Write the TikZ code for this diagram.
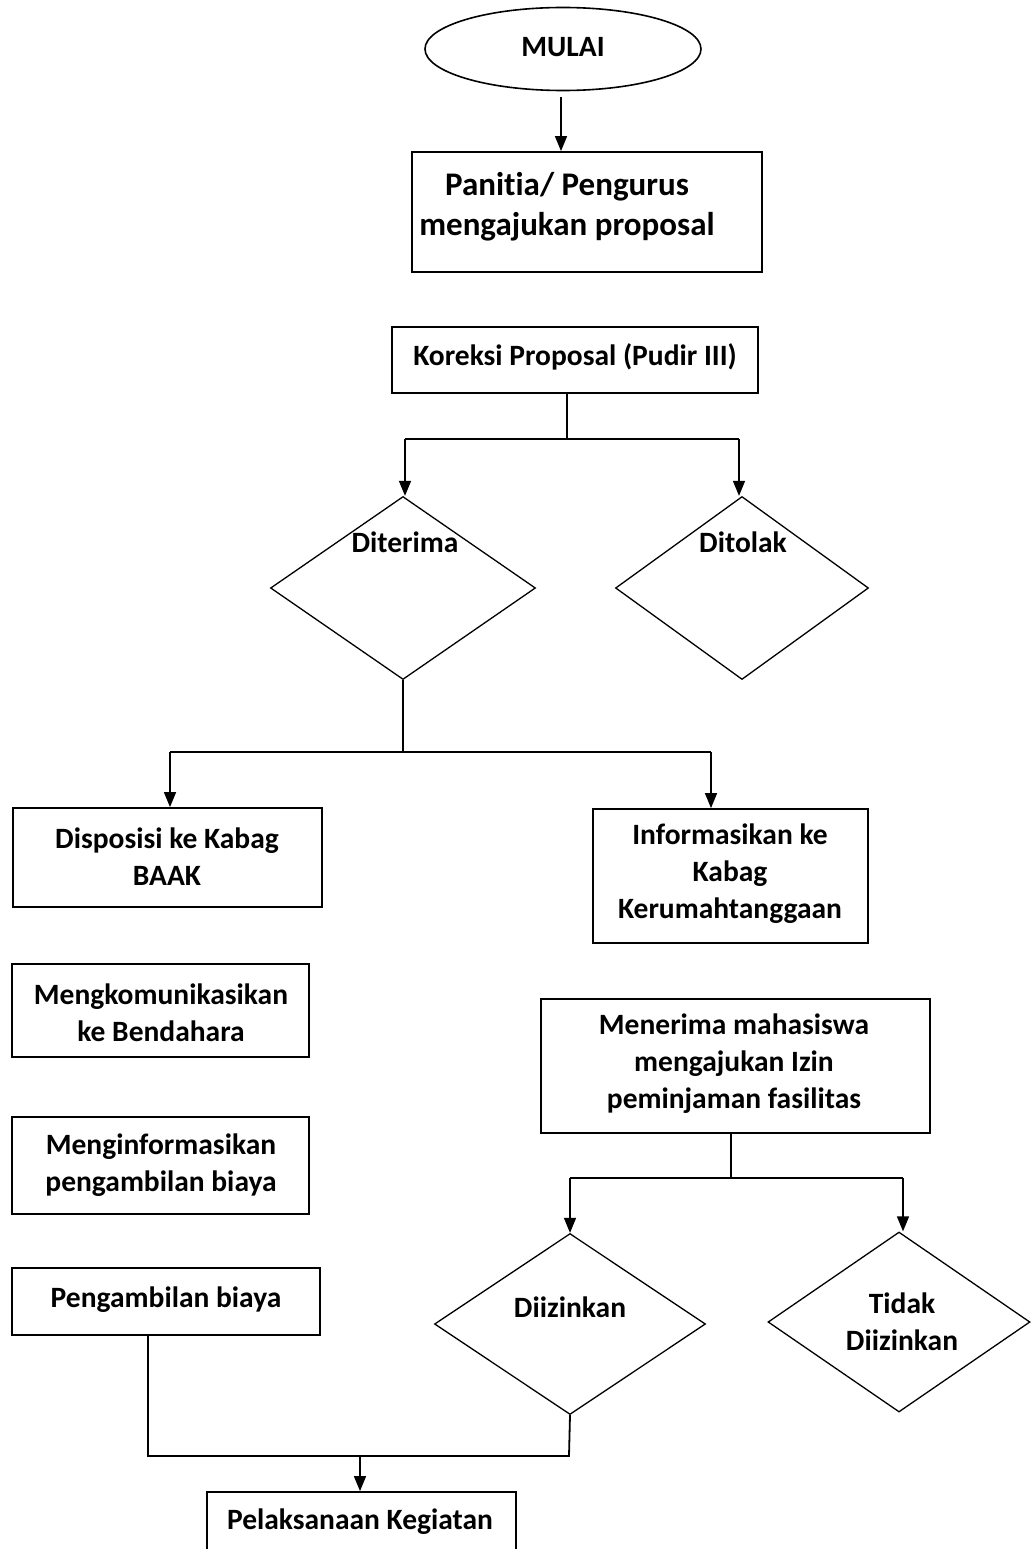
\documentclass[tikz,border=0pt]{standalone}
\usepackage{fontspec}
\setmainfont{Carlito}[Ligatures=NoCommon]
\usetikzlibrary{shapes.geometric,arrows.meta}
\tikzset{
  box/.style={draw, line width=1.8pt, rectangle, inner sep=0pt},
  dia/.style={draw, line width=1.3pt, diamond, inner sep=0pt},
  term/.style={draw, line width=1.6pt, ellipse, inner sep=0pt},
  lbl/.style={font=\fontsize{29.5}{37}\selectfont\bfseries, align=center, inner sep=0pt},
  biglbl/.style={lbl, font=\fontsize{33}{40}\selectfont\bfseries},
  conn/.style={line width=1.5pt},
  arr/.style={line width=1.5pt, -{Triangle[length=15pt,width=12pt]}},
}
\begin{document}
\begin{tikzpicture}[x=1pt,y=-1pt]
\clip (0,0) rectangle (1031,1549);
\fill[white] (0,0) rectangle (1031,1549);
% shapes
\node[term, minimum width=276pt, minimum height=83pt] (start) at (563,49) {};
\node[box, minimum width=350pt, minimum height=120pt] (b1) at (587,212) {};
\node[box, minimum width=366pt, minimum height=66pt] (b2) at (575,360) {};
\node[dia, minimum width=265pt, minimum height=183pt] (d1) at (403,588) {};
\node[dia, minimum width=253pt, minimum height=183pt] (d2) at (742,588) {};
\node[box, minimum width=309pt, minimum height=99pt] (b3) at (167.5,857.5) {};
\node[box, minimum width=275pt, minimum height=134pt] (b4) at (730.5,876) {};
\node[box, minimum width=297pt, minimum height=93pt] (b5) at (160.5,1010.5) {};
\node[box, minimum width=389pt, minimum height=134pt] (b6) at (735.5,1066) {};
\node[box, minimum width=297pt, minimum height=97pt] (b7) at (160.5,1165.5) {};
\node[box, minimum width=308pt, minimum height=67pt] (b8) at (166,1301.5) {};
\node[dia, minimum width=271pt, minimum height=181pt] (d3) at (570,1324) {};
\node[dia, minimum width=262pt, minimum height=180pt] (d4) at (899,1322) {};
\node[box, minimum width=309pt, minimum height=100pt] (b9) at (361.5,1542) {};
% labels
\node[lbl] (t0) at (563,47) {MULAI};
\node[biglbl] (t1) at (567,207) {Panitia/ Pengurus\\mengajukan proposal};
\node[lbl] (t2) at (575,357) {Koreksi Proposal (Pudir III)};
\node[lbl] (t3) at (405,542) {Diterima};
\node[lbl] (t4) at (743,542) {Ditolak};
\node[lbl] (t5) at (167,857) {Disposisi ke Kabag\\BAAK};
\node[lbl] (t6) at (730,874) {Informasikan ke\\Kabag\\Kerumahtanggaan};
\node[lbl] (t7) at (161,1013) {Mengkomunikasikan\\ke Bendahara};
\node[lbl] (t8) at (734,1064) {Menerima mahasiswa\\mengajukan Izin\\peminjaman fasilitas};
\node[lbl] (t9) at (161,1165) {Menginformasikan\\pengambilan biaya};
\node[lbl] (t10) at (166,1300) {Pengambilan biaya};
\node[lbl] (t11) at (570,1307) {Diizinkan};
\node[lbl] (t12) at (902,1322) {Tidak\\Diizinkan};
\node[lbl] (t13) at (360,1522) {Pelaksanaan Kegiatan};
% connector coordinates
\coordinate (s1) at (561,97);
\coordinate (j1) at (567,439);
\coordinate (j1l) at (405,439);
\coordinate (j1r) at (739,439);
\coordinate (j2) at (401,752);
\coordinate (j2l) at (170,752);
\coordinate (j2r) at (711,752);
\coordinate (j3) at (731,1178);
\coordinate (j3l) at (570,1178);
\coordinate (j3r) at (903,1178);
\coordinate (m1) at (148,1456);
\coordinate (m2) at (569,1456);
\coordinate (m3) at (360,1456);
% connectors
\draw[arr] (s1) -- (s1 |- b1.north);
\draw[conn] (b2.south -| j1) -- (j1);
\draw[conn, line width=1.9pt] (j1l) -- (j1r);
\draw[arr] (j1l) -- (j1l |- d1.north);
\draw[arr] (j1r) -- (j1r |- d2.north);
\draw[conn] (d1.south) -- (d1.south |- j2);
\draw[conn, line width=1.9pt] (j2l) -- (j2r);
\draw[arr] (j2l) -- (j2l |- b3.north);
\draw[arr] (j2r) -- (j2r |- b4.north);
\draw[conn] (b6.south -| j3) -- (j3);
\draw[conn, line width=1.9pt] (j3l) -- (j3r);
\draw[arr] (j3l) -- (j3l |- d3.north);
\draw[arr] (j3r) -- (j3r |- d4.north);
\draw[conn, line width=1.8pt] (b8.south -| m1) -- (m1) -- (m2) -- (d3.south);
\draw[arr] (m3) -- (m3 |- b9.north);
\end{tikzpicture}
\end{document}
